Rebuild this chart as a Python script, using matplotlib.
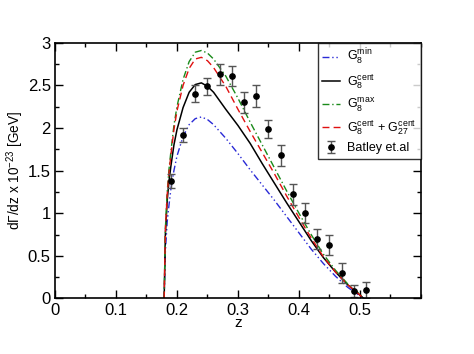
import matplotlib
matplotlib.use("Agg")
import matplotlib.pyplot as plt
from matplotlib.ticker import MultipleLocator

plt.rcParams['font.family'] = ['Liberation Sans', 'DejaVu Sans']
plt.rcParams['mathtext.fontset'] = 'custom'
plt.rcParams['mathtext.rm'] = 'Liberation Sans'
plt.rcParams['mathtext.it'] = 'Liberation Sans:italic'

# theory curves
z_curve = [0.179, 0.181, 0.184, 0.187, 0.19, 0.195, 0.2, 0.21, 0.22, 0.23, 0.24,
           0.25, 0.26, 0.28, 0.30, 0.32, 0.34, 0.36, 0.38, 0.40, 0.42, 0.44,
           0.46, 0.48, 0.50, 0.506]
g8_min = [0, 0.55, 0.9, 1.1, 1.28, 1.5, 1.67, 1.9, 2.04, 2.11, 2.13,
          2.1, 2.04, 1.88, 1.7, 1.51, 1.33, 1.15, 0.96, 0.77, 0.58, 0.41,
          0.26, 0.13, 0.03, 0]
g8_cent = [0, 0.75, 1.15, 1.38, 1.55, 1.8, 1.98, 2.24, 2.42, 2.51, 2.53,
           2.49, 2.42, 2.22, 2.03, 1.82, 1.58, 1.35, 1.12, 0.9, 0.68, 0.48,
           0.31, 0.16, 0.04, 0]
g8_max = [0, 0.82, 1.25, 1.52, 1.72, 2.03, 2.25, 2.57, 2.78, 2.89, 2.91,
          2.88, 2.81, 2.61, 2.35, 2.07, 1.8, 1.53, 1.26, 1.0, 0.75, 0.52,
          0.33, 0.17, 0.05, 0]
g8_g27 = [0, 0.8, 1.22, 1.48, 1.68, 1.98, 2.2, 2.5, 2.7, 2.81, 2.83,
          2.79, 2.71, 2.49, 2.22, 1.96, 1.71, 1.46, 1.2, 0.95, 0.71, 0.49,
          0.31, 0.16, 0.04, 0]

# data points (Batley et al.)
z_data = [0.19, 0.21, 0.23, 0.25, 0.27, 0.29, 0.31, 0.33, 0.35, 0.37, 0.39,
          0.41, 0.43, 0.45, 0.47, 0.49, 0.51]
y_data = [1.38, 1.92, 2.40, 2.49, 2.63, 2.61, 2.30, 2.38, 1.99, 1.68, 1.22,
          1.00, 0.70, 0.63, 0.30, 0.09, 0.10]
y_err = [0.08, 0.08, 0.10, 0.10, 0.12, 0.12, 0.12, 0.13, 0.11, 0.12, 0.12,
         0.12, 0.12, 0.12, 0.12, 0.07, 0.09]

fig = plt.figure(figsize=(4.74, 3.54), dpi=100)
ax = fig.add_axes([0.116, 0.157, 0.772, 0.722])

ax.plot(z_curve, g8_min, color='#2a2ad6', lw=1.0, ls=(0, (5, 2, 1, 2, 1, 2)),
        label=r'$\mathrm{G_8^{min}}$')
ax.plot(z_curve, g8_cent, color='black', lw=1.1, ls='-',
        label=r'$\mathrm{G_8^{cent}}$')
ax.plot(z_curve, g8_max, color='#1a8a1a', lw=1.0, ls=(0, (5, 2, 1, 2)),
        label=r'$\mathrm{G_8^{max}}$')
ax.plot(z_curve, g8_g27, color='#e01010', lw=1.0, ls=(0, (5, 3)),
        label=r'$\mathrm{G_8^{cent}}$ + $\mathrm{G_{27}^{cent}}$')
ax.errorbar(z_data, y_data, yerr=y_err, fmt='o', color='black', ms=3.8,
            ecolor='#555555', elinewidth=1.0, capsize=2.8, capthick=1.0,
            label='Batley et.al')

ax.set_xlim(0, 0.6)
ax.set_ylim(0, 3)
ax.xaxis.set_minor_locator(MultipleLocator(0.05))
ax.yaxis.set_minor_locator(MultipleLocator(0.25))
ax.set_xticks([0, 0.1, 0.2, 0.3, 0.4, 0.5])
ax.set_xticklabels(['0', '0.1', '0.2', '0.3', '0.4', '0.5'])
ax.set_yticks([0, 0.5, 1, 1.5, 2, 2.5, 3])
ax.set_yticklabels(['0', '0.5', '1', '1.5', '2', '2.5', '3'])
ax.tick_params(which='both', direction='in', top=True, right=True, labelsize=12)
ax.tick_params(which='major', length=6, width=1, pad=3)
ax.tick_params(which='minor', length=3, width=1)
for s in ax.spines.values():
    s.set_linewidth(1.2)

ax.set_xlabel('z', fontsize=11, labelpad=-1)
ax.set_ylabel(r'd$\Gamma$/dz x 10$^{-23}$ [GeV]', fontsize=9.8, labelpad=1)

leg = ax.legend(loc='upper right', fontsize=9, frameon=True, fancybox=False,
                edgecolor='black', borderaxespad=0, handlelength=1.4,
                handletextpad=0.6, labelspacing=0.4, borderpad=0.35)
leg.get_frame().set_linewidth(1.0)

fig.savefig('out.png', dpi=100)
